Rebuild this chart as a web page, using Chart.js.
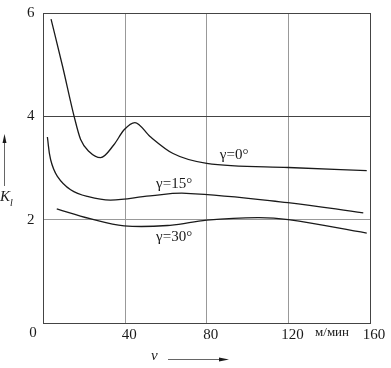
<!DOCTYPE html>
<html><head><meta charset="utf-8">
<script src="https://cdn.jsdelivr.net/npm/chart.js@4"></script>
<style>html,body{margin:0;padding:0;background:#fff}#wrap{width:391px;height:368px}</style>
</head><body><div id="wrap"><canvas id="c" width="391" height="368"></canvas></div>
<script>
// Data: cutting speed v (m/min) vs K_l
const v0  = [3.7, 9.4, 15.0, 18.2, 22.3, 28.0, 34.5, 39.5, 44.8, 52.2, 63.5, 80, 120, 158.4];
const k0  = [5.88, 4.96, 4.00, 3.55, 3.32, 3.20, 3.45, 3.74, 3.88, 3.61, 3.28, 3.09, 3.01, 2.95];
const v15 = [1.9, 3.5, 6.8, 13.3, 21.5, 32.9, 52.2, 70, 119.8, 156.7];
const k15 = [3.60, 3.16, 2.84, 2.58, 2.45, 2.38, 2.46, 2.51, 2.33, 2.13];
const v30 = [6.5, 22.8, 39.5, 62, 80, 105, 120, 158.4];
const k30 = [2.21, 2.02, 1.88, 1.89, 1.99, 2.04, 2.00, 1.74];
const xTicks = [0, 40, 80, 120, 160];
const yTicks = [0, 2, 4, 6];
const seriesLabels = ['γ=0°', 'γ=15°', 'γ=30°'];
const labelPos = [[93.4, 3.25], [64, 2.69], [64, 1.67]]; // label anchor in data units
const unitLabel = 'м/мин';

const pts = (xs, ys) => xs.map((x, i) => ({x, y: ys[i]}));
const FONT = '"Liberation Serif", "Times New Roman", serif';

const ds = (data, mono) => Object.assign({data, borderColor: '#1a1a1a', borderWidth: 1.3, pointRadius: 0,
  fill: false}, mono ? {cubicInterpolationMode: 'monotone'} : {tension: 0.4});

const deco = {
  id: 'deco',
  afterDraw(chart) {
    const {ctx, scales: {x, y}} = chart;
    ctx.save();
    ctx.fillStyle = '#1a1a1a';
    ctx.strokeStyle = '#1a1a1a';
    ctx.font = '15px ' + FONT;
    ctx.textBaseline = 'middle';
    ctx.textAlign = 'center';
    // curve labels
    seriesLabels.forEach((t, i) => {
      ctx.fillText(t, x.getPixelForValue(labelPos[i][0]), y.getPixelForValue(labelPos[i][1]));
    });
    // origin label and unit
    ctx.fillText('0', x.left - 10.5, x.top + 10);
    ctx.font = '13px ' + FONT;
    ctx.fillText(unitLabel, x.getPixelForValue(141.4), x.top + 10);
    // y title
    ctx.font = 'italic 15px ' + FONT;
    ctx.textAlign = 'left';
    ctx.fillText('K', 0, 197);
    ctx.font = 'italic 10px ' + FONT;
    ctx.fillText('l', 10, 203);
    // x title
    ctx.font = 'italic 15px ' + FONT;
    ctx.fillText('v', 151, 356);
    // arrows
    ctx.lineWidth = 1;
    ctx.strokeStyle = '#666';
    ctx.beginPath(); ctx.moveTo(4.5, 186); ctx.lineTo(4.5, 140); ctx.stroke();
    ctx.beginPath(); ctx.moveTo(4.5, 134); ctx.lineTo(2.5, 143); ctx.lineTo(6.5, 143); ctx.closePath(); ctx.fill();
    ctx.beginPath(); ctx.moveTo(168, 359.5); ctx.lineTo(222, 359.5); ctx.stroke();
    ctx.beginPath(); ctx.moveTo(229, 359.5); ctx.lineTo(219, 357.5); ctx.lineTo(219, 361.5); ctx.closePath(); ctx.fill();
    ctx.restore();
  }
};

new Chart(document.getElementById('c'), {
  type: 'line',
  data: { datasets: [ds(pts(v0, k0), true), ds(pts(v15, k15), false), ds(pts(v30, k30), false)] },
  options: {
    responsive: false, animation: false,
    layout: { padding: { left: 0, top: 13, right: 21, bottom: 0 } },
    plugins: { legend: { display: false }, tooltip: { enabled: false } },
    scales: {
      x: {
        type: 'linear', min: 0, max: 160,
        afterBuildTicks: s => { s.ticks = xTicks.map(v => ({value: v})); },
        afterFit: s => { s.height = 45; s.paddingLeft = 0; s.paddingRight = 0; },
        ticks: { color: '#1a1a1a', font: { family: FONT, size: 15 }, padding: 3, maxRotation: 0,
          labelOffset: 4, callback: v => v === 0 ? '' : String(v) },
        grid: { color: c => (c.tick && (c.tick.value === 0 || c.tick.value === 160)) ? '#444' : '#999',
          lineWidth: 1, drawTicks: false },
        border: { display: true, color: '#444', width: 1 }
      },
      y: {
        type: 'linear', min: 0, max: 6,
        afterBuildTicks: s => { s.ticks = yTicks.map(v => ({value: v})); },
        afterFit: s => { s.width = 43.5; s.paddingTop = 0; s.paddingBottom = 0; },
        ticks: { color: '#1a1a1a', font: { family: FONT, size: 15 }, padding: 9,
          callback: v => v === 0 ? '' : String(v) },
        grid: { color: c => (c.tick && c.tick.value === 2) ? '#999' : '#444',
          lineWidth: 1, drawTicks: false },
        border: { display: true, color: '#444', width: 1 }
      }
    }
  },
  plugins: [deco]
});
</script></body></html>
